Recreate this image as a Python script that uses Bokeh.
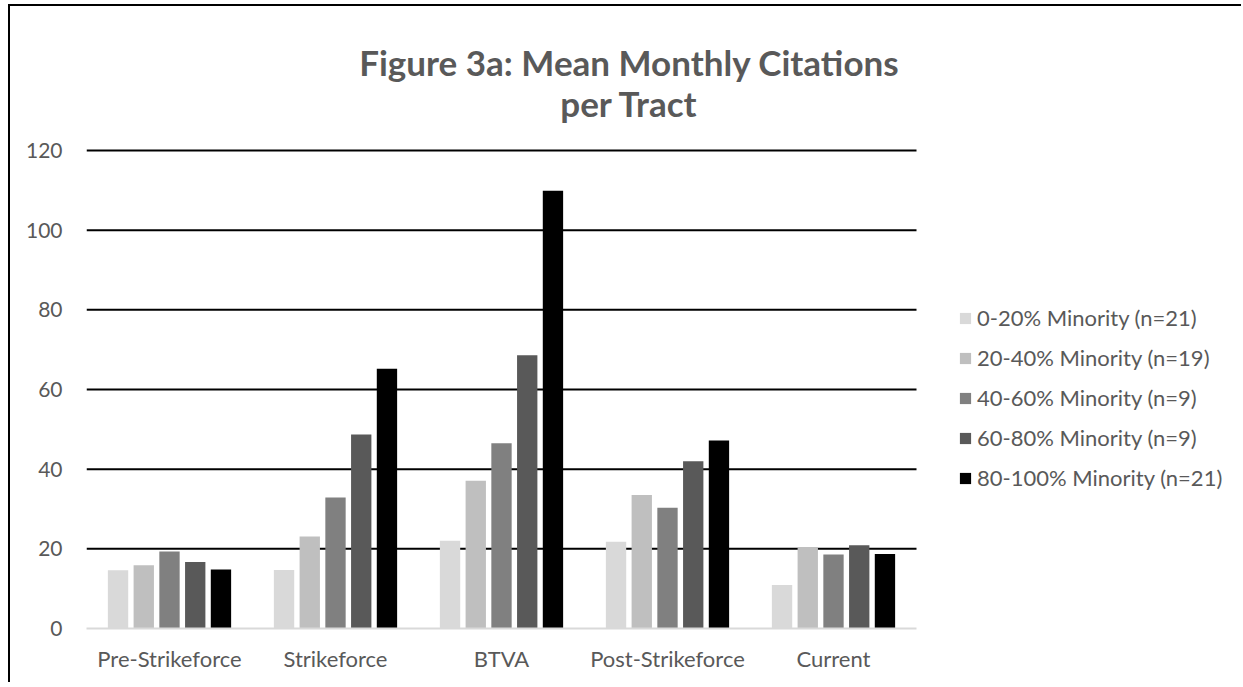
from bokeh.plotting import figure
from bokeh.models import (ColumnDataSource, Range1d, FixedTicker, Legend, LegendItem, Label)
from bokeh.transform import dodge
from bokeh.embed import file_html
from bokeh.resources import INLINE

categories = ["Pre-Strikeforce", "Strikeforce", "BTVA", "Post-Strikeforce", "Current"]
series_names = ["0-20% Minority (n=21)", "20-40% Minority (n=19)", "40-60% Minority (n=9)",
                "60-80% Minority (n=9)", "80-100% Minority (n=21)"]
minority_0_20 = [14.6, 14.7, 22.0, 21.8, 10.9]
minority_20_40 = [15.9, 23.1, 37.1, 33.5, 20.3]
minority_40_60 = [19.3, 32.9, 46.5, 30.3, 18.6]
minority_60_80 = [16.7, 48.7, 68.6, 42.0, 20.9]
minority_80_100 = [14.8, 65.2, 109.9, 47.2, 18.7]
y_ticks = [0, 20, 40, 60, 80, 100, 120]
title_lines = ["Figure 3a: Mean Monthly Citations", "per Tract"]

series = [minority_0_20, minority_20_40, minority_40_60, minority_60_80, minority_80_100]
colors = ["#d9d9d9", "#bfbfbf", "#808080", "#595959", "#000000"]
keys = ["s0", "s1", "s2", "s3", "s4"]

n_cat = len(categories)
x_pos = [i + 0.5 for i in range(n_cat)]          # category centres on a numeric axis
data = {"x": x_pos, "cat": categories}
for k, s in zip(keys, series):
    data[k] = s
source = ColumnDataSource(data)

FONT = "Lato"
TXT = "#595959"

W, H = 1233, 678
LEFT, BOTTOM = 76, 56
CAT_PX = 166.0
# frame covers title and legend area too (so nothing is clipped); one category = CAT_PX px
p = figure(width=W, height=H,
           x_range=Range1d(0, (W - LEFT) / CAT_PX),
           y_range=Range1d(0, 156.15), output_backend="svg", toolbar_location=None,
           min_border_left=LEFT, min_border_right=0, min_border_top=0, min_border_bottom=BOTTOM,
           styles={"border-left": "2px solid black", "border-top": "2px solid black",
                   "margin-left": "8px", "margin-top": "4px"})
p.outline_line_color = None
p.background_fill_color = "white"
p.xgrid.visible = False
p.ygrid.visible = False

# horizontal gridlines over the category span only
grid_y = y_ticks[1:]
p.segment(x0=[0] * len(grid_y), x1=[n_cat] * len(grid_y), y0=grid_y, y1=grid_y,
          line_color="black", line_width=2)

items = []
for j, (k, c, name) in enumerate(zip(keys, colors, series_names)):
    r = p.vbar(x=dodge("x", (j - 2) * 0.155), top=k, width=0.1225,
               source=source, fill_color=c, line_color=None)
    items.append(LegendItem(label=name, renderers=[r]))

p.yaxis.ticker = FixedTicker(ticks=y_ticks)
p.yaxis.axis_line_color = None
p.yaxis.major_tick_line_color = None
p.yaxis.minor_tick_line_color = None
p.yaxis.major_tick_out = 0
p.yaxis.major_tick_in = 0
p.yaxis.major_label_standoff = 24
p.yaxis.major_label_text_font = FONT
p.yaxis.major_label_text_font_size = "21px"
p.yaxis.major_label_text_color = TXT

p.xaxis.ticker = FixedTicker(ticks=x_pos)
p.xaxis.major_label_overrides = {x: c for x, c in zip(x_pos, categories)}
p.xaxis.bounds = (0, n_cat)
p.xaxis.axis_line_color = "#d9d9d9"
p.xaxis.axis_line_width = 2
p.xaxis.major_tick_line_color = None
p.xaxis.minor_tick_line_color = None
p.xaxis.major_tick_out = 0
p.xaxis.major_tick_in = 0
p.xaxis.major_label_standoff = 16
p.xaxis.major_label_text_font = FONT
p.xaxis.major_label_text_font_size = "22px"
p.xaxis.major_label_text_color = TXT

legend = Legend(items=items, location=(872, 137), orientation="vertical",
                glyph_width=14, glyph_height=14, label_height=20, spacing=13,
                label_standoff=5, padding=0, margin=0, border_line_color=None,
                background_fill_alpha=0, label_text_font=FONT,
                label_text_font_size="22px", label_text_color=TXT)
p.add_layout(legend, "center")

for txt, yv in zip(title_lines, [142.3, 132.0]):
    p.add_layout(Label(x=3.27, y=yv, text=txt, text_align="center", text_baseline="alphabetic",
                       text_font=FONT, text_font_style="bold", text_font_size="35px",
                       text_color=TXT))

open("out.html", "w").write(file_html(p, INLINE))
